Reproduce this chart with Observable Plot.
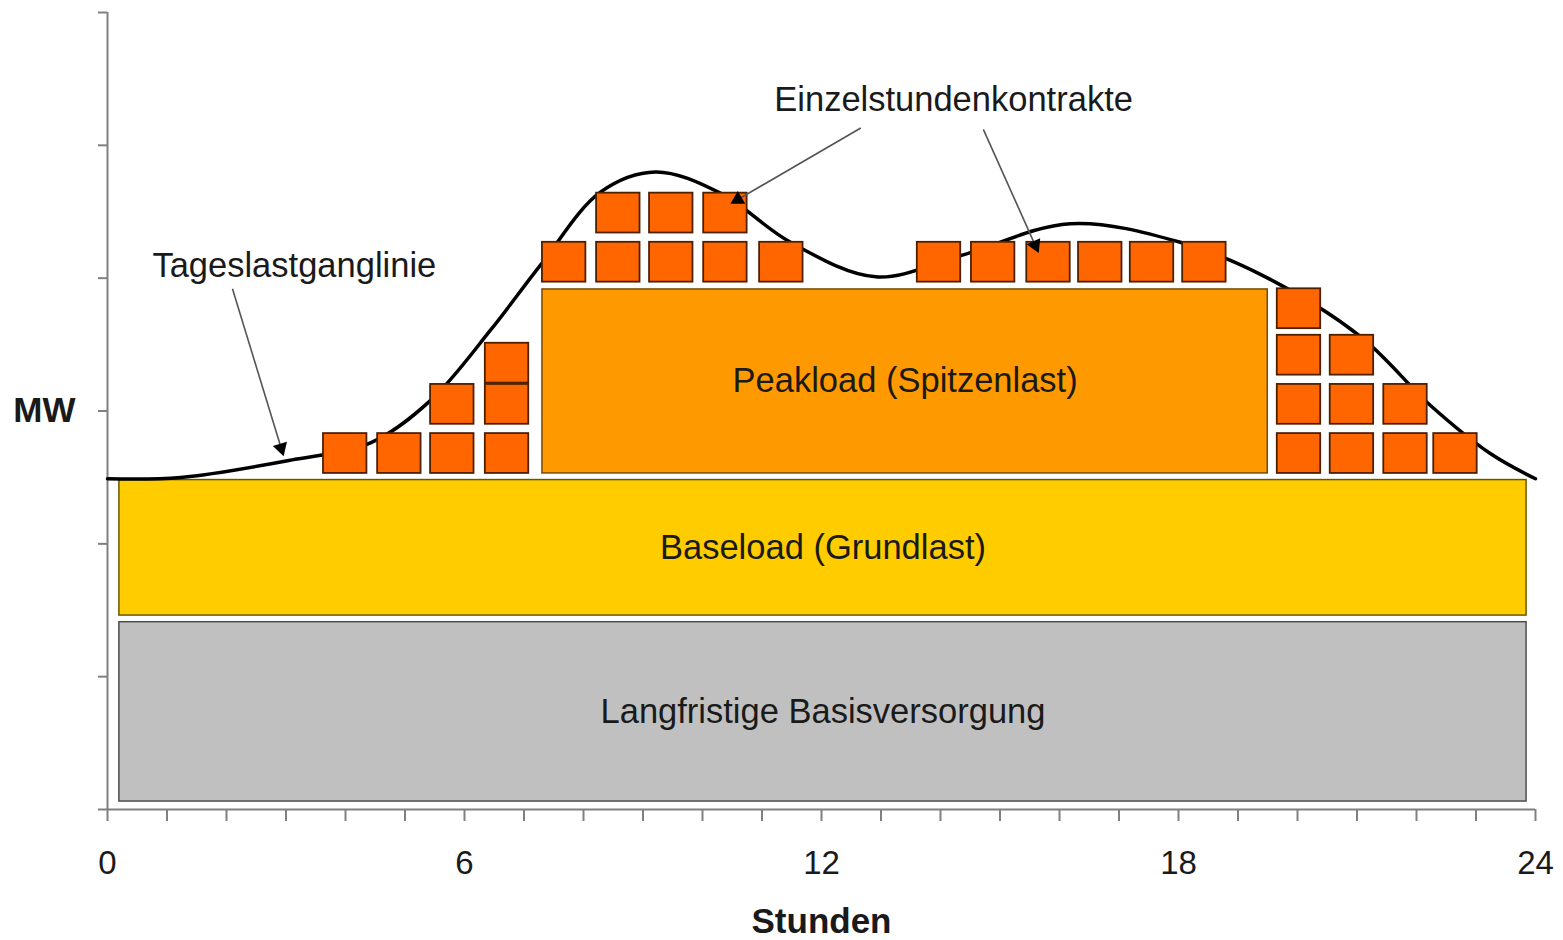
<!DOCTYPE html>
<html><head><meta charset="utf-8">
<script src="https://cdn.jsdelivr.net/npm/d3@7"></script>
<script src="https://cdn.jsdelivr.net/npm/@observablehq/plot@0.6"></script>
<style>body{margin:0;background:#fff;}</style>
</head><body><div id="chart"></div>
<script>
// axis ticks
const hourTicks = d3.range(0, 25);
const hourLabels = [0, 6, 12, 18, 24];
const mwTicks = d3.range(0, 7);

// supply blocks (hours / MW units)
const blockNames = ["Langfristige Basisversorgung", "Baseload (Grundlast)", "Peakload (Spitzenlast)"];
const blockStart = [0.20, 0.20, 7.31];
const blockEnd = [23.85, 23.85, 19.50];
const blockLow = [0.06, 1.46, 2.53];
const blockHigh = [1.41, 2.48, 3.915];
const blockFill = ["#c0c0c0", "#ffcc00", "#ff9900"];
const blockStroke = ["#4d4d4d", "#6b5600", "#7a4800"];

// single-hour contracts: left edge (hour) and lower edge (MW)
const contractStart = [
  3.63, 4.54, 5.43, 6.35, 5.43, 6.35, 6.35,
  7.31, 8.22, 9.11, 10.02, 10.96, 8.22, 9.11, 10.02,
  13.61, 14.52, 15.45, 16.32, 17.19, 18.07,
  19.66, 20.55, 21.45, 22.29, 19.66, 20.55, 21.45, 19.66, 20.55, 19.66
];
const contractLow = [
  2.53, 2.53, 2.53, 2.53, 2.90, 2.90, 3.21,
  3.97, 3.97, 3.97, 3.97, 3.97, 4.34, 4.34, 4.34,
  3.97, 3.97, 3.97, 3.97, 3.97, 3.97,
  2.53, 2.53, 2.53, 2.53, 2.90, 2.90, 2.90, 3.27, 3.27, 3.62
];

// daily load curve
const loadHour = [0, 1.23, 3.08, 4.42, 5.43, 6.44, 7.28, 8.29, 9.21, 10.30, 11.48, 12.91, 14.34, 16.18, 18.03, 19.46, 21.06, 22.24, 23.24, 24];
const loadMW = [2.49, 2.50, 2.63, 2.76, 3.08, 3.61, 4.10, 4.65, 4.80, 4.64, 4.27, 4.01, 4.17, 4.41, 4.27, 4.01, 3.56, 3.04, 2.68, 2.49];

// annotations
const noteText = ["Tageslastganglinie", "Einzelstundenkontrakte"];
const noteHour = [3.14, 14.22];
const noteMW = [4.09, 5.34];
const arrowFromHour = [2.10, 12.66, 14.72];
const arrowFromMW = [3.92, 5.13, 5.12];
const arrowToHour = [2.96, 10.47, 15.65];
const arrowToMW = [2.66, 4.56, 4.19];

const W = 1563, H = 940;
const mL = 107, mR = 28, mT = 12, mB = 131;
const xOpts = {domain: [0, 24], range: [mL, W - mR]};
const yOpts = {domain: [0, 6], range: [H - mB, mT]};
const sx = Plot.scale({x: xOpts});
const sy = Plot.scale({y: yOpts});

const blocks = blockNames.map((name, i) => ({name, x1: blockStart[i], x2: blockEnd[i], y1: blockLow[i], y2: blockHigh[i], fill: blockFill[i], stroke: blockStroke[i]}));
const sqW = 0.73, sqH = 0.30;
const contracts = contractStart.map((s, i) => ({x1: s, x2: s + sqW, y1: contractLow[i], y2: contractLow[i] + sqH}));
const load = loadHour.map((h, i) => ({h, mw: loadMW[i]}));
const notes = noteText.map((t, i) => ({t, x: noteHour[i], y: noteMW[i]}));
const arrows = arrowFromHour.map((_, i) => {
  const px1 = sx.apply(arrowFromHour[i]), py1 = sy.apply(arrowFromMW[i]);
  const px2 = sx.apply(arrowToHour[i]), py2 = sy.apply(arrowToMW[i]);
  const len = Math.hypot(px2 - px1, py2 - py1);
  const ux = (px2 - px1) / len, uy = (py2 - py1) / len;
  const back = 8.5;
  return {
    x1: arrowFromHour[i], y1: arrowFromMW[i],
    x2: sx.invert(px2 - ux * 10), y2: sy.invert(py2 - uy * 10),
    hx: sx.invert(px2 - ux * back), hy: sy.invert(py2 - uy * back),
    rot: Math.atan2(ux, -uy) * 180 / Math.PI
  };
});

const textColor = "#1a1a1a";
const axisColor = "#808080";

const chart = Plot.plot({
  width: W, height: H,
  marginLeft: mL, marginRight: mR, marginTop: mT, marginBottom: mB,
  x: xOpts, y: yOpts,
  style: {fontFamily: "'Liberation Sans', Arial, sans-serif", color: textColor, background: "#fff"},
  marks: [
    Plot.ruleX([0], {stroke: axisColor, strokeWidth: 2}),
    Plot.ruleY([0], {stroke: axisColor, strokeWidth: 2}),
    Plot.axisX({ticks: hourTicks, tickSize: 12, tickFormat: () => "", stroke: axisColor, strokeWidth: 2, label: null}),
    Plot.axisX({ticks: hourLabels, tickSize: 0, tickPadding: 41, fontSize: 33, fill: textColor, label: null}),
    Plot.axisY({ticks: mwTicks, tickSize: 9, tickFormat: () => "", stroke: axisColor, strokeWidth: 2, label: null}),
    Plot.rect(blocks, {x1: "x1", x2: "x2", y1: "y1", y2: "y2", fill: d => d.fill, stroke: d => d.stroke, strokeWidth: 1.5}),
    Plot.text(blocks, {x: d => (d.x1 + d.x2) / 2, y: d => (d.y1 + d.y2) / 2, text: "name", fontSize: 34.5, fill: textColor}),
    Plot.line(load, {x: "h", y: "mw", curve: "catmull-rom", stroke: "#000", strokeWidth: 3.5}),
    Plot.rect(contracts, {x1: "x1", x2: "x2", y1: "y1", y2: "y2", fill: "#ff6600", stroke: "#4d2000", strokeWidth: 1.8}),
    Plot.text(notes, {x: "x", y: "y", text: "t", fontSize: 34.5, fill: textColor}),
    Plot.link(arrows, {x1: "x1", y1: "y1", x2: "x2", y2: "y2", stroke: "#555", strokeWidth: 1.6}),
    Plot.dot(arrows, {x: "hx", y: "hy", symbol: "triangle", r: 5.5, fill: "#000", stroke: "none", rotate: "rot"}),
    Plot.text(["MW"], {frameAnchor: "left", y: [3], dx: -32, textAnchor: "end", fontSize: 35, fontWeight: "bold", fill: textColor}),
    Plot.text(["Stunden"], {frameAnchor: "bottom", dy: 123, fontSize: 35, fontWeight: "bold", fill: textColor})
  ]
});
document.getElementById("chart").appendChild(chart);
</script>
</body></html>
